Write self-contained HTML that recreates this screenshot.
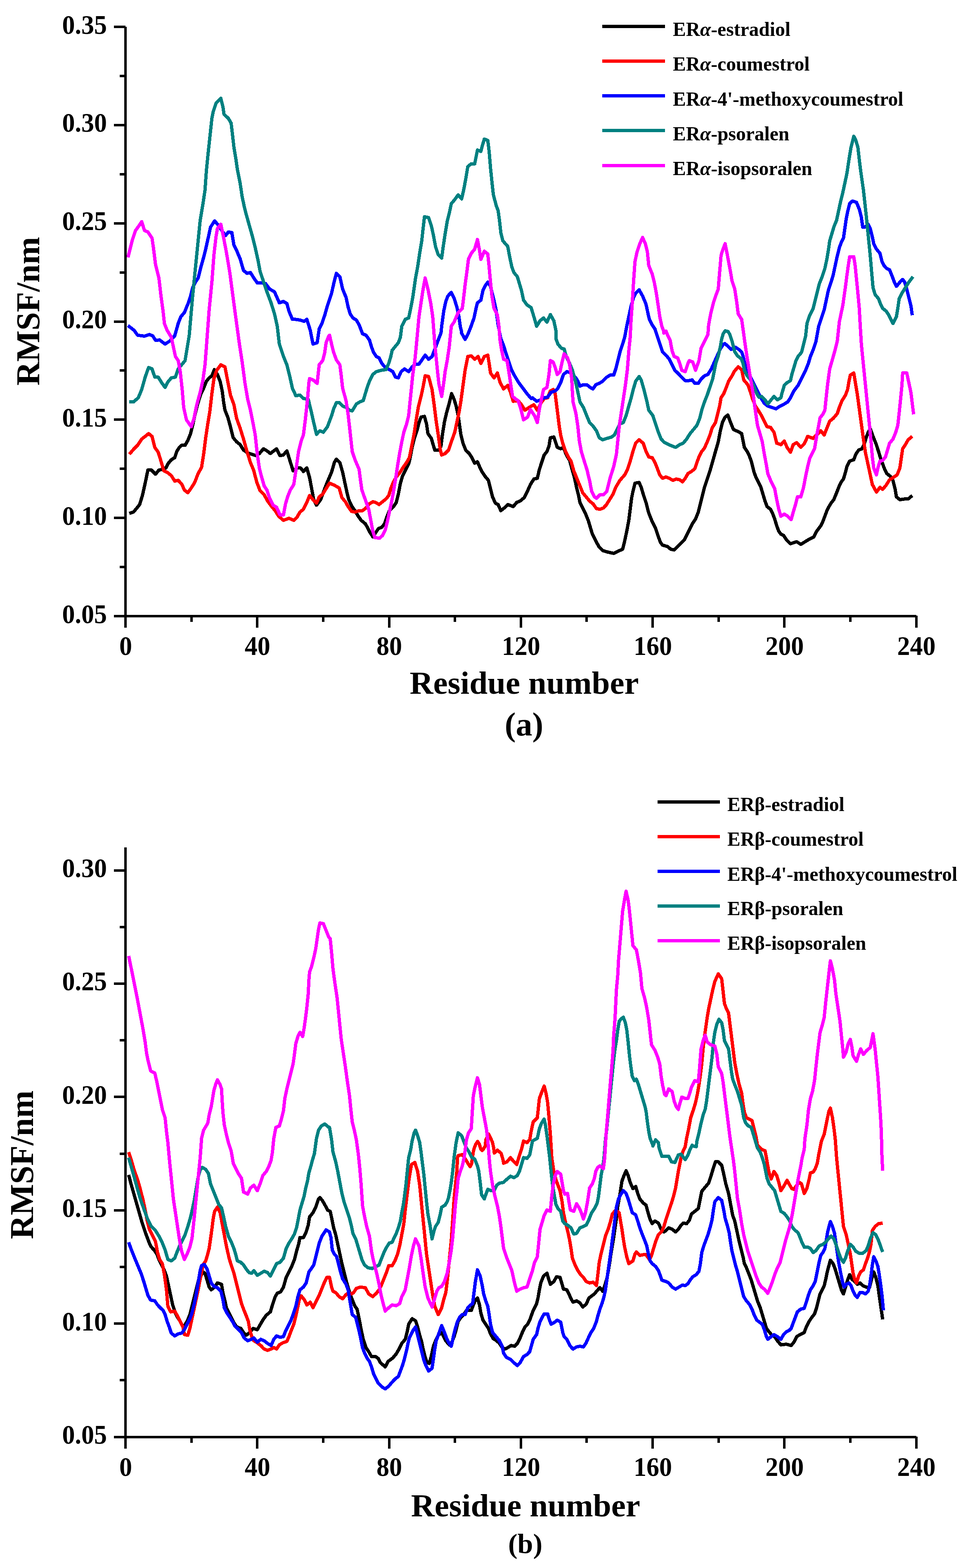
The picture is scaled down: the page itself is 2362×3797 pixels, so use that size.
<!DOCTYPE html>
<html><head><meta charset="utf-8"><title>RMSF</title>
<style>html,body{margin:0;padding:0;background:#fff;}svg{display:block;}</style></head>
<body>
<svg width="2362" height="3797" viewBox="0 0 2362 3797" shape-rendering="crispEdges" font-family="'Liberation Serif','Times New Roman',serif" font-weight="bold" fill="#000">
<rect width="2362" height="3797" fill="#fff"/>
<g id="curvesA" shape-rendering="crispEdges">
<polyline fill="none" stroke="#000000" stroke-width="8" stroke-linejoin="round" stroke-linecap="butt" points="313.3,1243.3 323.3,1240.0 331.7,1230.0 338.3,1221.7 345.0,1200.0 351.7,1170.0 358.3,1138.3 366.7,1138.3 376.7,1148.3 385.0,1138.3 393.3,1136.7 401.7,1133.3 406.7,1123.3 415.0,1113.3 423.3,1108.3 428.3,1093.3 433.3,1085.0 440.0,1078.3 448.3,1078.3 455.0,1066.7 461.7,1050.0 466.7,1030.0 471.7,1006.7 478.3,980.0 486.7,953.3 493.3,940.0 500.0,923.3 506.7,915.0 513.3,910.0 519.3,895.0 526.7,906.7 533.3,923.3 538.3,946.7 541.7,973.3 545.0,993.3 551.7,1010.0 558.3,1033.3 565.0,1060.0 573.3,1070.0 581.7,1076.7 590.0,1090.0 600.0,1096.7 610.0,1100.0 620.0,1103.3 628.3,1098.3 638.3,1086.7 646.7,1091.7 655.0,1098.3 663.3,1091.7 670.0,1086.7 678.3,1103.3 686.7,1101.7 695.0,1091.7 701.7,1113.3 710.0,1140.0 720.0,1133.3 728.3,1133.3 735.0,1141.7 743.3,1133.3 750.0,1156.7 755.0,1183.3 760.0,1210.0 766.7,1223.3 776.7,1210.0 786.7,1183.3 793.3,1166.7 803.3,1143.3 810.0,1120.0 815.0,1111.7 823.3,1120.0 830.0,1143.3 835.0,1166.7 840.0,1190.0 845.0,1210.0 851.7,1225.0 860.0,1236.7 866.7,1248.3 875.0,1260.0 885.0,1268.3 891.7,1280.0 896.7,1290.0 903.3,1300.0 910.0,1290.0 916.7,1280.0 925.0,1276.7 931.7,1268.3 936.7,1253.3 943.3,1236.7 953.3,1226.7 960.0,1216.7 965.0,1196.7 970.0,1170.0 975.0,1153.3 981.7,1140.0 990.0,1123.3 993.3,1110.0 998.3,1083.3 1003.3,1063.3 1010.0,1043.3 1015.0,1023.3 1020.0,1010.0 1028.3,1008.3 1033.3,1026.7 1036.7,1050.0 1045.0,1061.7 1048.3,1073.3 1053.3,1090.0 1063.3,1090.0 1068.3,1080.0 1071.7,1053.3 1076.7,1021.7 1081.7,1000.0 1088.3,976.7 1094.0,953.3 1100.0,966.7 1105.0,983.3 1110.0,1006.7 1113.3,1030.0 1116.7,1053.3 1121.7,1073.3 1128.3,1090.0 1136.7,1098.3 1143.3,1108.3 1150.0,1121.7 1156.7,1118.3 1161.7,1130.0 1168.3,1143.3 1175.0,1153.3 1183.3,1163.3 1188.3,1183.3 1193.3,1203.3 1200.0,1218.3 1206.7,1221.7 1213.3,1236.7 1221.7,1230.0 1230.0,1221.7 1243.3,1226.7 1251.7,1216.7 1260.0,1213.3 1270.0,1205.0 1276.7,1191.7 1285.0,1173.3 1293.3,1160.0 1301.7,1158.3 1306.7,1136.7 1313.3,1116.7 1318.3,1101.7 1325.0,1093.3 1330.0,1080.0 1333.3,1060.0 1341.7,1058.3 1346.7,1073.3 1350.0,1083.3 1358.3,1086.7 1365.0,1083.3 1370.0,1096.7 1375.0,1106.7 1380.0,1115.0 1385.0,1133.3 1391.7,1156.7 1396.7,1180.0 1401.7,1200.0 1405.0,1216.7 1411.7,1230.0 1418.3,1243.3 1425.0,1260.0 1430.0,1276.7 1435.0,1293.3 1443.3,1310.0 1451.7,1325.0 1460.0,1333.3 1471.7,1336.7 1486.7,1340.0 1496.7,1335.0 1508.3,1330.0 1513.3,1310.0 1518.3,1286.7 1523.3,1260.0 1526.7,1233.3 1530.0,1206.7 1533.3,1190.0 1538.3,1170.0 1548.3,1168.3 1553.3,1180.0 1558.3,1196.7 1565.0,1216.7 1570.0,1236.7 1573.3,1246.7 1580.0,1263.3 1588.3,1280.0 1595.0,1300.0 1600.0,1313.3 1605.0,1320.0 1616.7,1323.3 1625.0,1330.0 1633.3,1331.7 1641.7,1323.3 1650.0,1315.0 1658.3,1306.7 1663.3,1296.7 1670.0,1283.3 1678.3,1266.7 1685.0,1256.7 1691.7,1240.0 1696.7,1220.0 1701.7,1200.0 1706.7,1180.0 1713.3,1160.0 1720.0,1140.0 1726.7,1116.7 1733.3,1093.3 1740.0,1070.0 1745.0,1043.3 1750.0,1023.3 1756.7,1010.0 1763.3,1005.0 1770.0,1023.3 1776.7,1040.0 1780.0,1041.7 1788.3,1045.0 1796.7,1050.0 1800.0,1066.7 1803.3,1083.3 1810.0,1093.3 1815.0,1103.3 1820.0,1116.7 1823.3,1130.0 1826.7,1143.3 1831.7,1156.7 1836.7,1166.7 1843.3,1180.0 1848.3,1196.7 1853.3,1213.3 1858.3,1226.7 1866.7,1233.3 1871.7,1243.3 1876.7,1256.7 1881.7,1273.3 1886.7,1286.7 1891.7,1293.3 1898.3,1296.7 1905.0,1306.7 1915.0,1316.7 1930.0,1311.7 1940.0,1318.3 1953.3,1310.0 1961.7,1305.0 1971.7,1300.0 1978.3,1286.7 1988.3,1273.3 1993.3,1263.3 1998.3,1250.0 2003.3,1236.7 2008.3,1226.7 2013.3,1218.3 2020.0,1210.0 2026.7,1193.3 2033.3,1176.7 2038.3,1166.7 2043.3,1160.0 2048.3,1143.3 2051.7,1130.0 2058.3,1116.7 2068.3,1113.3 2073.3,1100.0 2080.0,1090.0 2088.3,1086.7 2093.3,1076.7 2098.3,1060.0 2103.3,1046.7 2108.3,1038.3 2115.0,1056.7 2121.7,1073.3 2128.3,1093.3 2133.3,1110.0 2138.3,1123.3 2143.3,1136.7 2148.3,1146.7 2156.7,1153.3 2163.3,1163.3 2168.3,1183.3 2171.7,1203.3 2180.0,1210.0 2191.7,1208.3 2200.0,1208.3 2210.0,1200.0"/>
<polyline fill="none" stroke="#ff0000" stroke-width="8" stroke-linejoin="round" stroke-linecap="butt" points="313.3,1100.0 323.3,1088.3 333.3,1078.3 343.3,1063.3 351.7,1056.7 360.0,1050.0 368.3,1056.7 375.0,1083.3 383.3,1095.0 390.0,1116.7 396.7,1140.0 406.7,1145.0 415.0,1151.7 423.3,1165.0 431.7,1163.3 440.0,1171.7 446.7,1186.7 455.0,1193.3 463.3,1181.7 471.7,1168.3 480.0,1146.7 488.3,1131.7 493.3,1100.0 498.3,1060.0 503.3,1026.7 508.3,996.7 513.3,953.3 518.3,916.7 525.0,896.7 535.0,883.3 545.0,888.3 551.7,923.3 558.3,956.7 566.7,980.0 573.3,1013.3 581.7,1036.7 590.0,1063.3 598.3,1093.3 606.7,1120.0 615.0,1140.0 621.7,1166.7 630.0,1188.3 640.0,1198.3 648.3,1213.3 658.3,1226.7 666.7,1236.7 675.0,1250.0 686.7,1260.0 700.0,1255.0 711.7,1260.0 720.0,1251.7 726.7,1240.0 735.0,1233.3 743.3,1216.7 750.0,1200.0 758.3,1210.0 766.7,1218.3 773.3,1203.3 781.7,1196.7 790.0,1183.3 798.3,1170.0 810.0,1175.0 821.7,1181.7 828.3,1205.0 836.7,1215.0 843.3,1226.7 851.7,1238.3 860.0,1240.0 870.0,1236.7 878.3,1236.7 886.7,1230.0 895.0,1220.0 903.3,1215.0 910.0,1216.7 918.3,1221.7 926.7,1215.0 935.0,1208.3 941.7,1200.0 946.7,1183.3 953.3,1166.7 960.0,1155.0 968.3,1145.0 976.7,1131.7 985.0,1120.0 991.7,1108.3 996.7,1083.3 1003.3,1050.0 1008.3,1016.7 1013.3,986.7 1020.0,960.0 1025.0,936.7 1030.0,910.0 1038.3,911.7 1046.7,943.3 1051.7,980.0 1056.7,1020.0 1061.7,1053.3 1066.7,1090.0 1070.0,1101.7 1078.3,1098.3 1086.7,1090.0 1093.3,1070.0 1101.7,1046.7 1106.7,1023.3 1111.7,1000.0 1116.7,970.0 1121.7,933.3 1126.7,896.7 1133.3,863.3 1141.7,861.7 1150.0,870.0 1158.3,863.3 1165.0,880.0 1173.3,863.3 1181.7,860.0 1185.0,880.0 1188.3,903.3 1196.7,915.0 1205.0,903.3 1211.7,926.7 1220.0,941.7 1230.0,933.3 1236.7,950.0 1243.3,971.7 1255.0,970.0 1263.3,980.0 1271.7,993.3 1281.7,986.7 1293.3,980.0 1301.7,993.3 1310.0,976.7 1318.3,965.0 1326.7,963.3 1333.3,946.7 1340.0,943.3 1345.0,953.3 1348.3,980.0 1351.7,1006.7 1355.0,1033.3 1358.3,1053.3 1363.3,1073.3 1370.0,1093.3 1376.7,1106.7 1383.3,1116.7 1390.0,1140.0 1396.7,1156.7 1405.0,1176.7 1411.7,1193.3 1420.0,1203.3 1428.3,1213.3 1436.7,1220.0 1445.0,1231.7 1453.3,1233.3 1461.7,1230.0 1468.3,1223.3 1476.7,1210.0 1485.0,1196.7 1491.7,1180.0 1501.7,1163.3 1513.3,1150.0 1520.0,1136.7 1526.7,1116.7 1533.3,1093.3 1540.0,1073.3 1548.3,1065.0 1558.3,1073.3 1565.0,1093.3 1571.7,1106.7 1580.0,1108.3 1586.7,1120.0 1593.3,1136.7 1598.3,1150.0 1605.0,1158.3 1613.3,1155.0 1621.7,1158.3 1630.0,1163.3 1638.3,1160.0 1646.7,1161.7 1653.3,1166.7 1660.0,1158.3 1666.7,1146.7 1675.0,1141.7 1683.3,1135.0 1688.3,1120.0 1693.3,1106.7 1700.0,1093.3 1706.7,1085.0 1713.3,1070.0 1720.0,1053.3 1725.0,1036.7 1733.3,1023.3 1738.3,1003.3 1743.3,983.3 1746.7,963.3 1753.3,953.3 1760.0,936.7 1765.0,923.3 1773.3,910.0 1778.3,900.0 1788.3,888.3 1796.7,895.0 1801.7,920.0 1811.7,931.7 1818.3,950.0 1823.3,966.7 1830.0,983.3 1836.7,993.3 1845.0,1006.7 1851.7,1020.0 1858.3,1033.3 1866.7,1035.0 1875.0,1046.7 1881.7,1073.3 1891.7,1076.7 1900.0,1068.3 1906.7,1083.3 1915.0,1095.0 1921.7,1076.7 1930.0,1071.7 1940.0,1083.3 1948.3,1075.0 1956.7,1056.7 1970.0,1061.7 1978.3,1053.3 1988.3,1043.3 1996.7,1053.3 2003.3,1036.7 2010.0,1020.0 2018.3,1013.3 2028.3,1001.7 2033.3,986.7 2040.0,970.0 2048.3,956.7 2053.3,943.3 2056.7,923.3 2060.0,908.3 2068.3,903.3 2071.7,923.3 2076.7,953.3 2081.7,990.0 2086.7,1026.7 2091.7,1063.3 2096.7,1096.7 2103.3,1126.7 2108.3,1150.0 2113.3,1173.3 2123.3,1191.7 2131.7,1180.0 2138.3,1185.0 2146.7,1175.0 2155.0,1161.7 2163.3,1156.7 2173.3,1150.0 2180.0,1133.3 2183.3,1110.0 2186.7,1086.7 2193.3,1076.7 2200.0,1065.0 2210.0,1056.7"/>
<polyline fill="none" stroke="#0000ff" stroke-width="8" stroke-linejoin="round" stroke-linecap="butt" points="310.0,788.3 325.0,800.0 333.3,811.7 350.0,814.0 361.7,810.0 370.0,813.3 376.7,824.0 386.7,823.3 400.0,833.3 410.0,826.7 423.3,813.3 431.7,783.3 438.3,766.7 446.7,756.7 455.0,736.7 461.7,716.7 466.7,696.7 473.3,683.3 480.0,673.3 486.7,646.7 493.3,623.3 498.3,603.3 505.0,573.3 510.0,550.0 520.0,535.0 530.0,546.7 538.3,560.0 546.7,570.0 553.3,561.7 561.7,563.3 566.7,593.3 573.3,606.7 581.7,626.7 590.0,655.0 598.3,661.7 606.7,660.0 615.0,673.3 623.3,685.0 633.3,685.0 643.3,686.7 653.3,700.0 665.0,706.7 676.7,733.3 686.7,730.0 695.0,735.0 700.0,753.3 708.3,773.3 715.0,773.3 726.7,775.0 736.7,778.3 743.3,773.3 751.7,800.0 758.3,833.3 768.3,830.0 773.3,796.7 780.0,783.3 786.7,763.3 793.3,740.0 803.3,710.0 810.0,680.0 815.0,661.7 823.3,670.0 830.0,700.0 838.3,720.0 843.3,743.3 848.3,760.0 855.0,770.0 863.3,775.0 870.0,786.7 878.3,808.3 886.7,811.7 895.0,823.3 900.0,840.0 905.0,853.3 911.7,863.3 918.3,866.7 925.0,880.0 933.3,890.0 943.3,895.0 951.7,900.0 958.3,913.3 965.0,915.0 971.7,900.0 980.0,893.3 990.0,900.0 998.3,888.3 1006.7,881.7 1015.0,881.7 1023.3,870.0 1030.0,860.0 1038.3,870.0 1046.7,863.3 1051.7,850.0 1056.7,836.7 1061.7,823.3 1068.3,806.7 1070.0,790.0 1075.0,753.3 1080.0,730.0 1085.0,716.7 1093.3,708.3 1100.0,721.7 1106.7,743.3 1111.7,766.7 1115.0,790.0 1118.3,803.3 1118.3,806.7 1126.7,821.7 1133.3,810.0 1140.0,793.3 1148.3,770.0 1153.3,746.7 1156.7,733.3 1165.0,726.7 1170.0,703.3 1176.7,690.0 1181.7,683.3 1188.3,693.3 1195.0,720.0 1201.7,750.0 1206.7,786.7 1213.3,820.0 1220.0,836.7 1225.0,853.3 1231.7,873.3 1238.3,893.3 1246.7,910.0 1256.7,926.7 1266.7,940.0 1276.7,953.3 1286.7,965.0 1290.0,963.3 1300.0,971.7 1310.0,968.3 1318.3,963.3 1326.7,961.7 1335.0,950.0 1345.0,946.7 1351.7,940.0 1358.3,926.7 1365.0,906.7 1373.3,900.0 1380.0,901.7 1386.7,908.3 1395.0,915.0 1400.0,923.3 1405.0,935.0 1413.3,931.7 1421.7,931.7 1430.0,938.3 1436.7,941.7 1443.3,931.7 1451.7,928.3 1460.0,923.3 1470.0,913.3 1478.3,908.3 1486.7,908.3 1491.7,893.3 1496.7,873.3 1501.7,853.3 1508.3,833.3 1513.3,816.7 1518.3,790.0 1523.3,766.7 1528.3,743.3 1535.0,720.0 1540.0,710.0 1548.3,701.7 1556.7,716.7 1565.0,736.7 1570.0,760.0 1573.3,773.3 1580.0,786.7 1586.7,796.7 1593.3,816.7 1600.0,836.7 1605.0,851.7 1613.3,860.0 1621.7,870.0 1628.3,883.3 1635.0,896.7 1641.7,903.3 1650.0,911.7 1660.0,921.7 1668.3,921.7 1676.7,920.0 1683.3,928.3 1691.7,928.3 1698.3,918.3 1706.7,910.0 1715.0,906.7 1723.3,893.3 1730.0,878.0 1745.0,845.0 1752.0,834.0 1756.0,832.0 1763.0,838.0 1771.0,846.0 1776.0,843.0 1782.0,841.0 1791.0,847.0 1797.0,853.0 1800.0,862.0 1804.0,880.0 1808.3,890.0 1816.7,910.0 1823.3,923.3 1830.0,936.7 1836.7,950.0 1843.3,963.3 1851.7,976.7 1860.0,983.3 1870.0,986.7 1880.0,990.0 1890.0,983.3 1900.0,978.3 1908.3,973.3 1915.0,963.3 1923.3,946.7 1933.3,933.3 1940.0,920.0 1946.7,906.7 1951.7,896.7 1958.3,880.0 1963.3,863.3 1970.0,846.7 1976.7,826.7 1983.3,790.0 1990.0,770.0 1996.7,750.0 2001.7,726.7 2006.7,703.3 2013.3,683.3 2018.3,666.7 2023.3,643.3 2028.3,620.0 2033.3,600.0 2038.3,586.7 2043.3,576.7 2046.7,553.3 2050.0,530.0 2053.3,513.3 2058.3,493.3 2065.0,486.7 2075.0,490.0 2081.7,506.7 2086.7,526.7 2090.0,550.0 2095.0,550.0 2103.3,543.3 2108.3,553.3 2113.3,573.3 2116.7,590.0 2123.3,603.3 2131.7,613.3 2136.7,633.3 2141.7,643.3 2148.3,650.0 2155.0,653.3 2161.7,670.0 2166.7,683.3 2171.7,693.3 2180.0,683.3 2186.7,676.7 2191.7,683.3 2196.7,700.0 2201.7,720.0 2206.7,740.0 2210.0,763.3"/>
<polyline fill="none" stroke="#008080" stroke-width="8" stroke-linejoin="round" stroke-linecap="butt" points="313.3,973.3 323.3,973.3 335.0,963.3 343.3,943.3 351.7,913.3 360.0,890.0 368.3,893.3 375.0,913.3 383.3,913.3 391.7,926.7 400.0,938.3 406.7,925.0 415.0,915.0 425.0,913.3 431.7,893.3 440.0,883.3 448.3,873.3 453.3,843.3 458.3,813.3 466.7,716.7 473.3,650.0 480.0,583.3 485.0,533.3 491.7,493.3 496.7,460.0 500.0,413.3 504.0,373.3 508.3,333.3 513.3,286.7 516.7,270.0 523.3,250.0 535.0,238.3 540.0,258.3 542.7,276.7 553.3,286.7 560.0,298.3 563.3,326.7 566.7,356.7 571.7,386.7 575.0,410.0 581.7,443.3 586.7,476.7 591.7,500.0 596.7,520.0 603.3,543.3 611.7,573.3 618.3,600.0 625.0,630.0 630.0,656.7 636.7,676.7 646.7,706.7 656.7,733.3 665.0,760.0 671.7,790.0 676.7,833.3 686.7,863.3 695.0,883.3 701.7,910.0 708.3,940.0 716.7,958.3 726.7,956.7 735.0,965.0 746.7,966.7 753.3,993.3 760.0,1023.3 766.7,1051.7 775.0,1043.3 783.3,1046.7 793.3,1033.3 803.3,1006.7 808.3,990.0 815.0,975.0 821.7,975.0 830.0,983.3 838.3,986.7 846.7,993.3 853.3,995.0 858.3,986.7 863.3,978.3 871.7,973.3 880.0,970.0 885.0,953.3 890.0,936.7 895.0,923.3 903.3,906.7 911.7,900.0 923.3,896.7 935.0,895.0 941.7,880.0 946.7,863.3 950.0,848.3 956.7,840.0 965.0,830.0 970.0,816.7 973.3,790.0 981.7,773.3 990.0,770.0 995.0,746.7 1000.0,720.0 1006.7,673.3 1011.7,646.7 1016.7,613.3 1021.7,583.3 1025.0,553.3 1028.3,525.0 1038.3,526.7 1045.0,546.7 1050.0,570.0 1055.0,596.7 1061.7,616.7 1070.0,625.0 1073.3,600.0 1078.3,566.7 1083.3,536.7 1088.3,516.7 1093.3,493.3 1101.7,483.3 1110.0,471.7 1118.3,481.7 1123.3,460.0 1128.3,433.3 1133.3,403.3 1141.7,396.7 1150.0,396.7 1153.3,380.0 1156.7,363.3 1165.0,366.7 1168.3,353.3 1173.3,336.7 1181.7,340.0 1185.0,366.7 1188.3,406.7 1191.7,440.0 1195.0,470.0 1201.7,496.7 1206.7,510.0 1210.0,533.3 1213.3,563.3 1218.3,583.3 1230.0,596.7 1235.0,623.3 1240.0,646.7 1245.0,660.0 1253.3,670.0 1258.3,686.7 1263.3,703.3 1268.3,726.7 1276.7,738.3 1286.7,745.0 1293.3,766.7 1300.0,790.0 1308.3,776.7 1316.7,770.0 1325.0,780.0 1333.3,761.7 1341.7,776.7 1346.7,800.0 1346.7,820.0 1351.7,833.3 1360.0,843.3 1366.7,845.0 1371.7,863.3 1380.0,880.0 1386.7,896.7 1395.0,926.7 1400.0,950.0 1405.0,973.3 1413.3,986.7 1420.0,1003.3 1428.3,1023.3 1436.7,1031.7 1445.0,1043.3 1451.7,1060.0 1460.0,1065.0 1470.0,1061.7 1481.7,1058.3 1488.3,1053.3 1495.0,1040.0 1501.7,1026.7 1510.0,1023.3 1516.7,1006.7 1523.3,983.3 1530.0,960.0 1535.0,940.0 1540.0,923.3 1548.3,911.7 1553.3,920.0 1560.0,943.3 1566.7,970.0 1571.7,993.3 1581.7,1006.7 1588.3,1026.7 1595.0,1046.7 1601.7,1063.3 1610.0,1071.7 1620.0,1076.7 1628.3,1080.0 1636.7,1083.3 1646.7,1076.7 1655.0,1073.3 1663.3,1063.3 1671.7,1050.0 1680.0,1040.0 1688.3,1030.0 1695.0,1013.3 1700.0,993.3 1706.7,973.3 1713.3,956.7 1720.0,936.7 1726.7,916.7 1734.0,880.0 1740.0,862.0 1745.0,840.0 1748.0,822.0 1752.0,808.0 1757.0,801.0 1764.0,803.0 1768.0,810.0 1773.0,825.0 1777.0,840.0 1780.0,852.0 1787.0,862.0 1796.0,869.0 1800.0,880.0 1803.3,896.7 1810.0,910.0 1818.3,920.0 1825.0,931.7 1831.7,950.0 1838.3,961.7 1845.0,960.0 1853.3,968.3 1860.0,978.3 1866.7,970.0 1875.0,960.0 1883.3,968.3 1891.7,963.3 1895.0,950.0 1900.0,933.3 1906.7,926.7 1915.0,921.7 1918.3,906.7 1923.3,890.0 1928.3,873.3 1933.3,863.3 1941.7,853.3 1946.7,833.3 1951.7,813.3 1955.0,783.3 1961.7,763.3 1970.0,746.7 1975.0,726.7 1980.0,706.7 1985.0,686.7 1991.7,670.0 1998.3,650.0 2003.3,626.7 2006.7,606.7 2010.0,583.3 2015.0,566.7 2020.0,550.0 2026.7,533.3 2031.7,510.0 2036.7,486.7 2041.7,466.7 2046.7,443.3 2051.7,420.0 2056.7,386.7 2061.7,356.7 2068.3,330.0 2073.3,340.0 2078.3,356.7 2081.7,386.7 2085.0,413.3 2088.3,436.7 2091.7,460.0 2095.0,490.0 2098.3,520.0 2101.7,553.3 2105.0,586.7 2108.3,620.0 2111.7,660.0 2115.0,696.7 2120.0,713.3 2128.3,723.3 2133.3,736.7 2138.3,746.7 2146.7,753.3 2153.3,763.3 2158.3,773.3 2163.3,783.3 2171.7,766.7 2175.0,746.7 2178.3,723.3 2185.0,710.0 2193.3,696.7 2201.7,683.3 2211.7,670.0"/>
<polyline fill="none" stroke="#ff00ff" stroke-width="8" stroke-linejoin="round" stroke-linecap="butt" points="310.0,623.3 320.0,583.3 328.3,558.3 336.7,546.7 343.3,536.7 350.0,558.3 358.3,561.7 368.3,576.7 371.7,600.0 376.7,640.0 385.0,673.3 390.0,716.7 395.0,753.3 398.3,783.3 405.0,800.0 415.0,816.7 420.0,840.0 425.0,863.3 431.7,873.3 436.7,900.0 441.7,946.7 445.0,986.7 451.7,1016.7 463.3,1033.3 470.0,1013.3 476.7,980.0 485.0,950.0 491.7,920.0 496.7,883.3 500.0,840.0 506.7,750.0 513.3,683.3 518.3,616.7 523.3,573.3 526.7,553.3 535.0,543.3 540.0,566.7 548.3,610.0 556.7,660.0 563.3,710.0 570.0,760.0 580.0,833.3 586.7,876.7 593.3,926.7 600.0,966.7 606.7,993.3 613.3,1026.7 618.3,1053.3 623.3,1100.0 628.3,1133.3 633.3,1153.3 640.0,1176.7 646.7,1186.7 653.3,1206.7 661.7,1223.3 670.0,1228.3 678.3,1246.7 686.7,1246.7 691.7,1220.0 696.7,1203.3 703.3,1186.7 711.7,1173.3 716.7,1140.0 720.0,1116.7 723.3,1093.3 730.0,1066.7 735.0,1053.3 740.0,1013.3 745.0,966.7 748.3,926.7 750.0,916.7 758.3,920.0 768.3,928.3 773.3,883.3 781.7,873.3 786.7,853.3 790.0,830.0 796.7,813.3 798.3,811.7 803.3,833.3 808.3,853.3 815.0,871.7 823.3,883.3 826.7,910.0 830.0,940.0 838.3,970.0 843.3,1003.3 846.7,1033.3 850.0,1063.3 853.3,1093.3 860.0,1113.3 870.0,1136.7 873.3,1163.3 876.7,1186.7 885.0,1210.0 893.3,1233.3 898.3,1260.0 903.3,1286.7 908.3,1301.7 920.0,1303.3 926.7,1296.7 933.3,1283.3 938.3,1263.3 943.3,1240.0 948.3,1216.7 953.3,1190.0 958.3,1160.0 963.3,1126.7 968.3,1096.7 973.3,1070.0 978.3,1046.7 985.0,1026.7 990.0,1006.7 993.3,973.3 996.7,940.0 1000.0,906.7 1005.0,873.3 1008.3,840.0 1015.0,766.7 1020.0,733.3 1025.0,700.0 1030.0,673.3 1036.7,700.0 1043.3,733.3 1048.3,766.7 1053.3,833.3 1056.7,866.7 1060.0,900.0 1063.3,930.0 1070.0,960.0 1075.0,926.7 1078.3,900.0 1083.3,873.3 1088.3,840.0 1093.3,790.0 1100.0,780.0 1110.0,756.7 1120.0,746.7 1123.3,720.0 1126.7,690.0 1131.7,653.3 1135.0,626.7 1141.7,613.3 1150.0,603.3 1156.7,580.0 1161.7,606.7 1165.0,628.3 1173.3,608.3 1181.7,615.0 1185.0,646.7 1188.3,683.3 1191.7,716.7 1196.7,746.7 1205.0,763.3 1208.3,786.7 1211.7,826.7 1215.0,846.7 1220.0,870.0 1228.3,873.3 1231.7,893.3 1236.7,926.7 1241.7,960.0 1250.0,966.7 1255.0,970.0 1261.7,990.0 1268.3,1016.7 1278.3,1010.0 1285.0,991.7 1295.0,1006.7 1301.7,1023.3 1306.7,990.0 1311.7,966.7 1316.7,943.3 1325.0,938.3 1330.0,906.7 1333.3,873.3 1340.0,876.7 1345.0,890.0 1350.0,906.7 1356.7,900.0 1361.7,876.7 1366.7,856.7 1375.0,866.7 1380.0,883.3 1385.0,916.7 1386.7,950.0 1388.3,973.3 1395.0,1000.0 1400.0,1033.3 1403.3,1066.7 1408.3,1093.3 1413.3,1110.0 1421.7,1136.7 1428.3,1163.3 1433.3,1190.0 1440.0,1203.3 1445.0,1206.7 1453.3,1198.3 1461.7,1198.3 1470.0,1190.0 1473.3,1176.7 1478.3,1156.7 1486.7,1130.0 1493.3,1100.0 1496.7,1066.7 1500.0,1033.3 1505.0,1000.0 1510.0,966.7 1515.0,933.3 1520.0,893.3 1523.3,850.0 1526.7,816.7 1528.3,783.3 1531.7,733.3 1535.0,680.0 1538.3,633.3 1543.3,610.0 1550.0,590.0 1556.7,575.0 1563.3,590.0 1568.3,610.0 1571.7,643.3 1580.0,663.3 1585.0,683.3 1590.0,710.0 1595.0,743.3 1598.3,766.7 1603.3,790.0 1608.3,803.3 1608.3,806.7 1613.3,801.7 1616.7,810.0 1623.3,823.3 1628.3,850.0 1633.3,863.3 1641.7,866.7 1646.7,880.0 1651.7,896.7 1660.0,900.0 1666.7,880.0 1670.0,873.3 1678.3,876.7 1685.0,896.7 1693.3,873.3 1698.3,843.3 1706.7,826.7 1715.0,810.0 1716.7,786.7 1721.7,760.0 1728.3,733.3 1735.0,713.3 1740.0,700.0 1743.3,660.0 1746.7,620.0 1748.3,613.3 1751.7,603.3 1756.7,590.0 1760.0,606.7 1765.0,633.3 1770.0,660.0 1773.3,680.0 1780.0,700.0 1785.0,733.3 1788.3,760.0 1796.7,773.3 1800.0,796.7 1805.0,833.3 1810.0,866.7 1815.0,896.7 1820.0,926.7 1825.0,956.7 1828.3,983.3 1831.7,1006.7 1835.0,1030.0 1840.0,1046.7 1846.7,1070.0 1851.7,1100.0 1856.7,1126.7 1860.0,1146.7 1868.3,1166.7 1876.7,1183.3 1881.7,1210.0 1886.7,1233.3 1891.7,1250.0 1900.0,1245.0 1908.3,1250.0 1916.7,1258.3 1921.7,1240.0 1926.7,1223.3 1931.7,1203.3 1940.0,1203.3 1946.7,1180.0 1951.7,1153.3 1956.7,1130.0 1961.7,1110.0 1968.3,1096.7 1973.3,1086.7 1976.7,1066.7 1980.0,1046.7 1983.3,1030.0 1986.7,1011.7 1993.3,1003.3 1998.3,993.3 2001.7,960.0 2005.0,930.0 2010.0,893.3 2016.7,870.0 2023.3,846.7 2028.3,826.7 2033.3,780.0 2036.7,763.3 2041.7,740.0 2045.0,716.7 2048.3,693.3 2051.7,666.7 2055.0,643.3 2058.3,621.7 2068.3,621.7 2071.7,643.3 2075.0,676.7 2078.3,710.0 2081.7,746.7 2083.3,776.7 2086.7,833.3 2090.0,866.7 2093.3,900.0 2096.7,933.3 2100.0,966.7 2103.3,1000.0 2106.7,1033.3 2110.0,1066.7 2113.3,1106.7 2116.7,1133.3 2123.3,1150.0 2126.7,1133.3 2131.7,1116.7 2138.3,1115.0 2145.0,1106.7 2150.0,1090.0 2155.0,1073.3 2163.3,1063.3 2170.0,1046.7 2175.0,1030.0 2178.3,1000.0 2181.7,966.7 2185.0,933.3 2186.7,903.3 2196.7,903.3 2201.7,926.7 2206.7,950.0 2210.0,976.7 2213.3,1003.3"/>
</g>
<line x1="304.0" y1="65.0" x2="304.0" y2="1495.0" stroke="#000" stroke-width="6"/>
<line x1="301.0" y1="1492" x2="2220.0" y2="1492" stroke="#000" stroke-width="6"/>
<line x1="276" y1="65.0" x2="304.0" y2="65.0" stroke="#000" stroke-width="6"/>
<text transform="translate(259,81.5) scale(1,1.05)" text-anchor="end" font-size="62">0.35</text>
<line x1="276" y1="302.8" x2="304.0" y2="302.8" stroke="#000" stroke-width="6"/>
<text transform="translate(259,319.3) scale(1,1.05)" text-anchor="end" font-size="62">0.30</text>
<line x1="276" y1="540.7" x2="304.0" y2="540.7" stroke="#000" stroke-width="6"/>
<text transform="translate(259,557.2) scale(1,1.05)" text-anchor="end" font-size="62">0.25</text>
<line x1="276" y1="778.5" x2="304.0" y2="778.5" stroke="#000" stroke-width="6"/>
<text transform="translate(259,795.0) scale(1,1.05)" text-anchor="end" font-size="62">0.20</text>
<line x1="276" y1="1016.3" x2="304.0" y2="1016.3" stroke="#000" stroke-width="6"/>
<text transform="translate(259,1032.8) scale(1,1.05)" text-anchor="end" font-size="62">0.15</text>
<line x1="276" y1="1254.2" x2="304.0" y2="1254.2" stroke="#000" stroke-width="6"/>
<text transform="translate(259,1270.7) scale(1,1.05)" text-anchor="end" font-size="62">0.10</text>
<line x1="276" y1="1492.0" x2="304.0" y2="1492.0" stroke="#000" stroke-width="6"/>
<text transform="translate(259,1508.5) scale(1,1.05)" text-anchor="end" font-size="62">0.05</text>
<line x1="290" y1="183.9" x2="304.0" y2="183.9" stroke="#000" stroke-width="6"/>
<line x1="290" y1="421.7" x2="304.0" y2="421.7" stroke="#000" stroke-width="6"/>
<line x1="290" y1="659.6" x2="304.0" y2="659.6" stroke="#000" stroke-width="6"/>
<line x1="290" y1="897.4" x2="304.0" y2="897.4" stroke="#000" stroke-width="6"/>
<line x1="290" y1="1135.2" x2="304.0" y2="1135.2" stroke="#000" stroke-width="6"/>
<line x1="290" y1="1373.1" x2="304.0" y2="1373.1" stroke="#000" stroke-width="6"/>
<line x1="304.0" y1="1491" x2="304.0" y2="1520" stroke="#000" stroke-width="6"/>
<text transform="translate(304.5,1585.5) scale(1,1.05)" text-anchor="middle" font-size="62">0</text>
<line x1="463.6" y1="1492" x2="463.6" y2="1506" stroke="#000" stroke-width="6"/>
<line x1="623.2" y1="1491" x2="623.2" y2="1520" stroke="#000" stroke-width="6"/>
<text transform="translate(623.8,1585.5) scale(1,1.05)" text-anchor="middle" font-size="62">40</text>
<line x1="782.9" y1="1492" x2="782.9" y2="1506" stroke="#000" stroke-width="6"/>
<line x1="942.5" y1="1491" x2="942.5" y2="1520" stroke="#000" stroke-width="6"/>
<text transform="translate(943.0,1585.5) scale(1,1.05)" text-anchor="middle" font-size="62">80</text>
<line x1="1102.1" y1="1492" x2="1102.1" y2="1506" stroke="#000" stroke-width="6"/>
<line x1="1261.8" y1="1491" x2="1261.8" y2="1520" stroke="#000" stroke-width="6"/>
<text transform="translate(1262.2,1585.5) scale(1,1.05)" text-anchor="middle" font-size="62">120</text>
<line x1="1421.4" y1="1492" x2="1421.4" y2="1506" stroke="#000" stroke-width="6"/>
<line x1="1581.0" y1="1491" x2="1581.0" y2="1520" stroke="#000" stroke-width="6"/>
<text transform="translate(1581.5,1585.5) scale(1,1.05)" text-anchor="middle" font-size="62">160</text>
<line x1="1740.6" y1="1492" x2="1740.6" y2="1506" stroke="#000" stroke-width="6"/>
<line x1="1900.2" y1="1491" x2="1900.2" y2="1520" stroke="#000" stroke-width="6"/>
<text transform="translate(1900.8,1585.5) scale(1,1.05)" text-anchor="middle" font-size="62">200</text>
<line x1="2059.9" y1="1492" x2="2059.9" y2="1506" stroke="#000" stroke-width="6"/>
<line x1="2219.5" y1="1491" x2="2219.5" y2="1520" stroke="#000" stroke-width="6"/>
<text transform="translate(2220.0,1585.5) scale(1,1.05)" text-anchor="middle" font-size="62">240</text>
<line x1="1459" y1="63.9" x2="1611" y2="63.9" stroke="#000000" stroke-width="8"/>
<text x="1630" y="87.2" font-size="47.5">ER<tspan font-style="italic">α</tspan>-estradiol</text>
<line x1="1459" y1="148.1" x2="1611" y2="148.1" stroke="#ff0000" stroke-width="8"/>
<text x="1630" y="171.4" font-size="47.5">ER<tspan font-style="italic">α</tspan>-coumestrol</text>
<line x1="1459" y1="232.3" x2="1611" y2="232.3" stroke="#0000ff" stroke-width="8"/>
<text x="1630" y="255.6" font-size="47.5">ER<tspan font-style="italic">α</tspan>-4'-methoxycoumestrol</text>
<line x1="1459" y1="316.4" x2="1611" y2="316.4" stroke="#008080" stroke-width="8"/>
<text x="1630" y="339.7" font-size="47.5">ER<tspan font-style="italic">α</tspan>-psoralen</text>
<line x1="1459" y1="400.6" x2="1611" y2="400.6" stroke="#ff00ff" stroke-width="8"/>
<text x="1630" y="423.9" font-size="47.5">ER<tspan font-style="italic">α</tspan>-isopsoralen</text>
<text x="1270" y="1679.8" text-anchor="middle" font-size="79">Residue number</text>
<text x="1269.5" y="1780.7" text-anchor="middle" font-size="80">(a)</text>
<text transform="translate(95,753.5) rotate(-90)" text-anchor="middle" font-size="80">RMSF/nm</text>
<g id="curvesB" shape-rendering="crispEdges">
<polyline fill="none" stroke="#000000" stroke-width="8" stroke-linejoin="round" stroke-linecap="butt" points="311.7,2845.0 318.3,2870.0 325.0,2893.3 331.7,2916.7 338.3,2940.0 345.0,2963.3 351.7,2983.3 356.7,2996.7 361.7,3010.0 366.7,3020.0 373.3,3026.7 380.0,3036.7 385.0,3050.0 391.7,3063.3 398.3,3076.7 403.3,3090.0 408.3,3113.3 413.3,3136.7 418.3,3160.0 425.0,3180.0 430.0,3190.0 436.7,3200.0 441.7,3210.0 446.7,3210.0 453.3,3200.0 460.0,3183.3 465.0,3163.3 470.0,3143.3 475.0,3123.3 480.0,3103.3 486.7,3090.0 491.7,3080.0 496.7,3083.3 501.7,3100.0 506.7,3116.7 511.7,3123.3 520.0,3116.7 526.7,3106.7 536.7,3110.0 540.0,3130.0 545.0,3150.0 548.3,3166.7 555.0,3180.0 561.7,3193.3 566.7,3203.3 573.3,3213.3 583.3,3216.7 590.0,3226.7 596.7,3233.3 603.3,3228.3 613.3,3216.7 623.3,3220.0 630.0,3208.3 636.7,3196.7 645.0,3185.0 655.0,3176.7 660.0,3160.0 666.7,3140.0 671.7,3131.7 680.0,3128.3 686.7,3116.7 693.3,3093.3 700.0,3080.0 706.7,3066.7 713.3,3050.0 718.3,3030.0 723.3,3013.3 726.7,2996.7 735.0,2996.7 741.7,2983.3 746.7,2966.7 750.0,2946.7 758.3,2936.7 765.0,2923.3 771.7,2903.3 775.0,2900.0 781.7,2908.3 788.3,2920.0 793.3,2930.0 800.0,2933.3 805.0,2956.7 808.3,2973.3 813.3,2990.0 818.3,3013.3 823.3,3036.7 828.3,3060.0 833.3,3080.0 838.3,3100.0 845.0,3123.3 851.7,3143.3 860.0,3163.3 865.0,3170.0 870.0,3193.3 875.0,3220.0 880.0,3243.3 886.7,3263.3 893.3,3273.3 900.0,3285.0 910.0,3285.0 916.7,3290.0 921.7,3300.0 933.3,3310.0 940.0,3296.7 945.0,3293.3 951.7,3288.3 960.0,3278.3 966.7,3266.7 973.3,3253.3 981.7,3243.3 986.7,3223.3 990.0,3206.7 998.3,3193.3 1006.7,3198.3 1011.7,3213.3 1016.7,3233.3 1021.7,3250.0 1025.0,3266.7 1030.0,3286.7 1035.0,3300.0 1040.0,3301.7 1045.0,3283.3 1050.0,3260.0 1056.7,3243.3 1061.7,3233.3 1070.0,3226.7 1075.0,3236.7 1080.0,3246.7 1088.3,3256.7 1093.3,3253.3 1100.0,3236.7 1105.0,3220.0 1110.0,3200.0 1116.7,3190.0 1123.3,3183.3 1130.0,3173.3 1136.7,3173.3 1141.7,3173.3 1146.7,3160.0 1151.7,3148.3 1156.7,3143.3 1161.7,3160.0 1165.0,3180.0 1170.0,3196.7 1176.7,3206.7 1183.3,3216.7 1188.3,3230.0 1195.0,3241.7 1203.3,3246.7 1210.0,3253.3 1216.7,3263.3 1223.3,3266.7 1230.0,3263.3 1238.3,3258.3 1246.7,3260.0 1253.3,3253.3 1260.0,3240.0 1266.7,3223.3 1271.7,3213.3 1278.3,3206.7 1283.3,3196.7 1291.7,3173.3 1300.0,3156.7 1303.3,3143.3 1306.7,3123.3 1310.0,3106.7 1316.7,3090.0 1325.0,3083.3 1330.0,3100.0 1333.3,3110.0 1341.7,3103.3 1348.3,3091.7 1356.7,3093.3 1361.7,3110.0 1365.0,3121.7 1373.3,3123.3 1378.3,3133.3 1383.3,3145.0 1388.3,3153.3 1396.7,3150.0 1405.0,3155.0 1411.7,3165.0 1420.0,3158.3 1426.7,3143.3 1433.3,3138.3 1440.0,3133.3 1446.7,3125.0 1453.3,3118.3 1460.0,3126.7 1465.0,3113.3 1470.0,3096.7 1473.3,3080.0 1476.7,3060.0 1480.0,3036.7 1483.3,3016.7 1486.7,2996.7 1490.0,2973.3 1493.3,2950.0 1496.7,2920.0 1501.7,2893.3 1506.7,2860.0 1511.7,2846.7 1516.7,2835.0 1521.7,2846.7 1526.7,2863.3 1533.3,2878.3 1540.0,2873.3 1545.0,2890.0 1550.0,2903.3 1558.3,2913.3 1565.0,2918.3 1570.0,2936.7 1575.0,2953.3 1580.0,2963.3 1586.7,2956.7 1595.0,2961.7 1601.7,2976.7 1608.3,2983.3 1613.3,2980.0 1620.0,2973.3 1628.3,2976.7 1636.7,2983.3 1643.3,2976.7 1650.0,2966.7 1655.0,2961.7 1663.3,2963.3 1670.0,2955.0 1675.0,2940.0 1683.3,2933.3 1691.7,2926.7 1695.0,2910.0 1700.0,2885.0 1706.7,2876.7 1716.7,2865.0 1721.7,2850.0 1726.7,2833.3 1733.3,2813.3 1740.0,2813.3 1748.3,2821.7 1753.3,2843.3 1758.3,2866.7 1765.0,2890.0 1770.0,2916.7 1775.0,2943.3 1780.0,2956.7 1785.0,2980.0 1790.0,3003.3 1795.0,3023.3 1800.0,3043.3 1803.3,3060.0 1808.3,3070.0 1815.0,3086.7 1820.0,3100.0 1825.0,3116.7 1830.0,3133.3 1835.0,3150.0 1841.7,3166.7 1846.7,3183.3 1851.7,3200.0 1856.7,3216.7 1861.7,3223.3 1870.0,3233.3 1876.7,3236.7 1883.3,3246.7 1891.7,3256.7 1905.0,3255.0 1916.7,3258.3 1923.3,3250.0 1930.0,3236.7 1938.3,3231.7 1948.3,3226.7 1953.3,3213.3 1960.0,3200.0 1966.7,3190.0 1973.3,3181.7 1978.3,3166.7 1983.3,3146.7 1986.7,3133.3 1991.7,3123.3 1996.7,3113.3 2000.0,3100.0 2003.3,3083.3 2006.7,3070.0 2011.7,3051.7 2018.3,3060.0 2023.3,3073.3 2028.3,3090.0 2033.3,3106.7 2038.3,3123.3 2043.3,3133.3 2048.3,3116.7 2053.3,3100.0 2058.3,3086.7 2063.3,3096.7 2070.0,3103.3 2076.7,3110.0 2083.3,3106.7 2090.0,3113.3 2098.3,3116.7 2106.7,3116.7 2110.0,3103.3 2113.3,3090.0 2116.7,3080.0 2121.7,3093.3 2126.7,3113.3 2130.0,3136.7 2133.3,3160.0 2136.7,3183.3 2138.3,3195.0"/>
<polyline fill="none" stroke="#ff0000" stroke-width="8" stroke-linejoin="round" stroke-linecap="butt" points="311.7,2790.0 318.3,2810.0 325.0,2833.3 333.3,2856.7 340.0,2880.0 346.7,2906.7 351.7,2930.0 356.7,2956.7 361.7,2976.7 370.0,2993.3 376.7,3006.7 381.7,3033.3 386.7,3050.0 393.3,3060.0 398.3,3086.7 403.3,3123.3 406.7,3163.3 413.3,3176.7 423.3,3175.0 430.0,3186.7 436.7,3200.0 443.3,3213.3 446.7,3231.7 455.0,3233.3 460.0,3216.7 465.0,3193.3 470.0,3170.0 475.0,3146.7 480.0,3123.3 485.0,3096.7 491.7,3063.3 498.3,3053.3 503.3,3036.7 506.7,3023.3 510.0,3000.0 513.3,2976.7 516.7,2950.0 520.0,2933.3 526.7,2923.3 533.3,2936.7 538.3,2963.3 543.3,2990.0 548.3,3016.7 555.0,3046.7 560.0,3063.3 566.7,3083.3 571.7,3103.3 578.3,3130.0 585.0,3156.7 590.0,3170.0 596.7,3186.7 601.7,3200.0 605.0,3220.0 610.0,3236.7 615.0,3246.7 623.3,3251.7 631.7,3258.3 640.0,3266.7 648.3,3270.0 656.7,3266.7 663.3,3263.3 670.0,3266.7 676.7,3256.7 685.0,3251.7 695.0,3248.3 700.0,3236.7 705.0,3223.3 711.7,3206.7 716.7,3186.7 721.7,3163.3 725.0,3146.7 730.0,3138.3 736.7,3146.7 743.3,3160.0 751.7,3153.3 758.3,3166.7 765.0,3153.3 773.3,3136.7 780.0,3120.0 786.7,3103.3 791.7,3093.3 798.3,3093.3 803.3,3116.7 806.7,3126.7 813.3,3130.0 821.7,3140.0 830.0,3145.0 838.3,3135.0 845.0,3130.0 851.7,3133.3 856.7,3130.0 863.3,3120.0 873.3,3116.7 885.0,3118.3 893.3,3133.3 903.3,3140.0 911.7,3131.7 918.3,3123.3 923.3,3113.3 930.0,3096.7 936.7,3080.0 941.7,3065.0 950.0,3065.0 956.7,3053.3 963.3,3036.7 968.3,3016.7 973.3,2990.0 978.3,2963.3 981.7,2930.0 985.0,2903.3 988.3,2876.7 991.7,2850.0 996.7,2820.0 1005.0,2815.0 1011.7,2836.7 1016.7,2870.0 1020.0,2903.3 1023.3,2936.7 1026.7,2970.0 1030.0,3003.3 1033.3,3036.7 1038.3,3070.0 1043.3,3103.3 1048.3,3136.7 1053.3,3163.3 1061.7,3183.3 1070.0,3166.7 1075.0,3146.7 1080.0,3130.0 1083.3,3103.3 1086.7,3070.0 1090.0,3036.7 1093.3,3003.3 1096.7,2953.3 1100.0,2903.3 1103.3,2870.0 1106.7,2836.7 1108.3,2803.3 1110.0,2798.3 1120.0,2796.0 1127.0,2806.0 1133.0,2816.0 1139.0,2825.0 1142.5,2818.0 1144.5,2803.0 1146.5,2790.0 1148.5,2781.0 1152.0,2772.0 1157.0,2764.0 1161.0,2770.0 1165.0,2783.0 1168.0,2786.0 1171.0,2783.0 1175.5,2775.0 1177.0,2760.0 1183.5,2746.0 1189.0,2757.0 1193.0,2766.0 1196.0,2780.0 1197.5,2792.0 1205.0,2785.0 1214.0,2793.0 1218.0,2806.0 1220.0,2816.7 1228.3,2813.3 1236.7,2803.3 1245.0,2813.3 1251.7,2820.0 1256.7,2803.3 1263.3,2783.3 1268.3,2763.3 1276.7,2766.7 1283.3,2760.0 1286.7,2740.0 1291.7,2716.7 1301.7,2706.7 1306.7,2660.0 1311.7,2646.7 1318.3,2630.0 1323.3,2650.0 1326.7,2670.0 1330.0,2706.7 1333.3,2746.7 1336.7,2803.3 1341.7,2836.7 1346.7,2856.7 1351.7,2870.0 1356.7,2883.3 1361.7,2910.0 1365.0,2936.7 1370.0,2960.0 1375.0,2980.0 1380.0,3003.3 1383.3,3023.3 1386.7,3046.7 1393.3,3063.3 1400.0,3076.7 1406.7,3086.7 1413.3,3093.3 1420.0,3103.3 1428.3,3106.7 1436.7,3105.0 1445.0,3113.3 1448.3,3086.7 1451.7,3056.7 1456.7,3033.3 1461.7,3013.3 1466.7,2993.3 1473.3,2976.7 1478.3,2960.0 1483.3,2940.0 1491.7,2930.0 1500.0,2936.7 1503.3,2956.7 1506.7,2976.7 1510.0,3000.0 1513.3,3020.0 1518.3,3043.3 1523.3,3060.0 1533.3,3053.3 1538.3,3036.7 1541.7,3031.7 1550.0,3040.0 1558.3,3038.3 1565.0,3038.3 1573.3,3050.0 1578.3,3040.0 1583.3,3023.3 1588.3,3006.7 1595.0,2990.0 1603.3,2981.7 1608.3,2970.0 1613.3,2953.3 1620.0,2933.3 1626.7,2913.3 1631.7,2896.7 1636.7,2876.7 1640.0,2856.7 1643.3,2836.7 1646.7,2820.0 1650.0,2803.3 1655.0,2786.7 1660.0,2776.7 1663.3,2756.7 1668.3,2733.3 1673.3,2706.7 1680.0,2686.7 1685.0,2670.0 1690.0,2646.7 1693.3,2626.7 1696.7,2603.3 1700.0,2576.7 1703.3,2540.0 1706.7,2510.0 1710.0,2486.7 1713.3,2463.3 1716.7,2443.3 1721.7,2420.0 1726.7,2396.7 1731.7,2376.7 1740.0,2358.3 1748.3,2370.0 1751.7,2400.0 1755.0,2430.0 1760.0,2443.3 1765.0,2453.3 1768.3,2480.0 1771.7,2506.7 1775.0,2533.3 1780.0,2573.3 1785.0,2600.0 1790.0,2623.3 1796.7,2646.7 1800.0,2673.3 1803.3,2693.3 1808.3,2706.7 1815.0,2710.0 1821.7,2713.3 1826.7,2733.3 1831.7,2753.3 1835.0,2773.3 1845.0,2783.3 1853.3,2786.7 1856.7,2803.3 1860.0,2823.3 1863.3,2840.0 1868.3,2855.0 1875.0,2836.7 1881.7,2846.7 1886.7,2863.3 1891.7,2883.3 1898.3,2873.3 1906.7,2858.3 1913.3,2870.0 1918.3,2878.3 1923.3,2880.0 1930.0,2870.0 1936.7,2863.3 1941.7,2866.7 1948.3,2890.0 1955.0,2876.7 1960.0,2856.7 1963.3,2840.0 1970.0,2838.3 1975.0,2830.0 1980.0,2816.7 1983.3,2796.7 1986.7,2780.0 1990.0,2763.3 1996.7,2746.7 2000.0,2730.0 2003.3,2713.3 2008.3,2690.0 2011.7,2683.3 2016.7,2706.7 2020.0,2730.0 2023.3,2756.7 2026.7,2803.3 2030.0,2836.7 2033.3,2870.0 2036.7,2903.3 2040.0,2936.7 2043.3,2970.0 2050.0,2990.0 2055.0,3013.3 2060.0,3036.7 2063.3,3060.0 2066.7,3083.3 2070.0,3096.7 2075.0,3106.7 2080.0,3090.0 2085.0,3080.0 2091.7,3075.0 2096.7,3060.0 2101.7,3046.7 2106.7,3030.0 2110.0,3013.3 2113.3,2980.0 2120.0,2970.0 2128.3,2963.3 2138.3,2961.7"/>
<polyline fill="none" stroke="#0000ff" stroke-width="8" stroke-linejoin="round" stroke-linecap="butt" points="311.7,3008.3 318.3,3026.7 325.0,3043.3 333.3,3063.3 341.7,3083.3 348.3,3103.3 353.3,3120.0 358.3,3136.7 365.0,3148.3 375.0,3150.0 381.7,3160.0 388.3,3166.7 395.0,3173.3 400.0,3183.3 405.0,3200.0 410.0,3213.3 415.0,3228.3 423.3,3235.0 431.7,3230.0 440.0,3228.3 446.7,3220.0 453.3,3206.7 460.0,3193.3 465.0,3180.0 470.0,3160.0 475.0,3136.7 480.0,3106.7 485.0,3076.7 488.3,3065.0 495.0,3061.7 501.7,3073.3 506.7,3090.0 511.7,3106.7 518.3,3115.0 526.7,3118.3 535.0,3126.7 540.0,3146.7 543.3,3166.7 550.0,3180.0 556.7,3190.0 563.3,3200.0 568.3,3210.0 576.7,3218.3 585.0,3226.7 591.7,3240.0 600.0,3246.7 608.3,3243.3 615.0,3240.0 623.3,3250.0 631.7,3243.3 640.0,3246.7 648.3,3253.3 656.7,3258.3 663.3,3243.3 670.0,3235.0 678.3,3238.3 686.7,3236.7 691.7,3223.3 698.3,3210.0 705.0,3196.7 710.0,3183.3 716.7,3163.3 721.7,3140.0 726.7,3123.3 735.0,3116.7 741.7,3106.7 748.3,3080.0 753.3,3073.3 760.0,3063.3 763.3,3050.0 768.3,3030.0 773.3,3010.0 780.0,2993.3 790.0,2978.3 798.3,2983.3 801.7,2996.7 805.0,3026.7 810.0,3036.7 815.0,3041.7 820.0,3060.0 825.0,3080.0 830.0,3096.7 838.3,3110.0 843.3,3123.3 846.7,3143.3 850.0,3163.3 853.3,3183.3 861.7,3190.0 865.0,3203.3 870.0,3223.3 875.0,3246.7 878.3,3263.3 883.3,3276.7 890.0,3290.0 895.0,3296.7 900.0,3310.0 905.0,3326.7 910.0,3336.7 916.7,3350.0 925.0,3358.3 933.3,3363.3 941.7,3356.7 950.0,3346.7 958.3,3338.3 965.0,3333.3 970.0,3320.0 975.0,3306.7 980.0,3290.0 985.0,3270.0 988.3,3253.3 991.7,3240.0 996.7,3230.0 1001.7,3220.0 1006.7,3213.3 1011.7,3233.3 1016.7,3253.3 1021.7,3273.3 1026.7,3293.3 1031.7,3306.7 1038.3,3320.0 1046.7,3313.3 1050.0,3290.0 1053.3,3266.7 1056.7,3246.7 1061.7,3233.3 1070.0,3210.0 1076.7,3226.7 1081.7,3240.0 1088.3,3253.3 1093.3,3260.0 1098.3,3236.7 1103.3,3216.7 1108.3,3200.0 1113.3,3190.0 1120.0,3183.3 1126.7,3183.3 1133.3,3166.7 1140.0,3160.0 1145.0,3156.7 1148.3,3130.0 1151.7,3103.3 1156.7,3075.0 1163.3,3090.0 1168.3,3113.3 1171.7,3133.3 1176.7,3150.0 1181.7,3163.3 1185.0,3183.3 1188.3,3206.7 1193.3,3226.7 1201.7,3236.7 1210.0,3246.7 1216.7,3260.0 1220.0,3276.7 1226.7,3286.7 1236.7,3291.7 1245.0,3300.0 1253.3,3306.7 1260.0,3300.0 1268.3,3285.0 1276.7,3280.0 1283.3,3273.3 1291.7,3243.3 1300.0,3231.7 1303.3,3216.7 1308.3,3200.0 1313.3,3190.0 1318.3,3181.7 1326.7,3181.7 1330.0,3193.3 1335.0,3206.7 1341.7,3203.3 1350.0,3196.7 1358.3,3201.7 1363.3,3226.7 1366.7,3236.7 1373.3,3243.3 1378.3,3253.3 1381.7,3260.0 1388.3,3266.7 1396.7,3261.7 1405.0,3260.0 1413.3,3261.7 1420.0,3251.7 1426.7,3236.7 1431.7,3226.7 1438.3,3216.7 1445.0,3200.0 1448.3,3186.7 1453.3,3170.0 1458.3,3156.7 1463.3,3140.0 1466.7,3123.3 1470.0,3100.0 1473.3,3076.7 1476.7,3053.3 1480.0,3030.0 1483.3,3003.3 1486.7,2976.7 1490.0,2950.0 1493.3,2923.3 1498.3,2903.3 1503.3,2893.3 1510.0,2883.3 1516.7,2890.0 1521.7,2903.3 1526.7,2920.0 1531.7,2936.7 1540.0,2941.7 1545.0,2956.7 1550.0,2973.3 1555.0,2986.7 1561.7,3003.3 1566.7,3016.7 1570.0,3033.3 1575.0,3053.3 1580.0,3060.0 1588.3,3066.7 1595.0,3076.7 1600.0,3090.0 1603.3,3100.0 1613.3,3103.3 1620.0,3106.7 1628.3,3116.7 1636.7,3121.7 1645.0,3116.7 1653.3,3111.7 1660.0,3113.3 1666.7,3108.3 1671.7,3100.0 1678.3,3091.7 1686.7,3086.7 1693.3,3078.3 1696.7,3060.0 1700.0,3033.3 1705.0,3016.7 1710.0,3003.3 1715.0,2990.0 1720.0,2973.3 1725.0,2953.3 1728.3,2930.0 1731.7,2910.0 1740.0,2900.0 1748.3,2906.7 1753.3,2930.0 1756.7,2950.0 1761.7,2966.7 1766.7,2986.7 1770.0,3010.0 1773.3,3030.0 1781.7,3063.3 1786.7,3080.0 1791.7,3100.0 1796.7,3120.0 1801.7,3140.0 1808.3,3150.0 1816.7,3160.0 1821.7,3170.0 1826.7,3183.3 1833.3,3196.7 1840.0,3201.7 1846.7,3206.7 1851.7,3220.0 1856.7,3236.7 1860.0,3243.3 1868.3,3236.7 1875.0,3231.7 1883.3,3236.7 1891.7,3243.3 1898.3,3231.7 1905.0,3225.0 1911.7,3221.7 1916.7,3216.7 1921.7,3203.3 1926.7,3190.0 1931.7,3176.7 1940.0,3170.0 1948.3,3168.3 1953.3,3153.3 1958.3,3136.7 1963.3,3123.3 1970.0,3113.3 1975.0,3103.3 1978.3,3086.7 1981.7,3070.0 1985.0,3053.3 1988.3,3040.0 1993.3,3033.3 1998.3,3023.3 2001.7,3003.3 2005.0,2983.3 2008.3,2970.0 2011.7,2958.3 2016.7,2970.0 2021.7,2986.7 2025.0,3010.0 2028.3,3033.3 2031.7,3056.7 2036.7,3083.3 2041.7,3106.7 2045.0,3116.7 2050.0,3110.0 2056.7,3106.7 2061.7,3113.3 2066.7,3126.7 2071.7,3136.7 2076.7,3141.7 2083.3,3130.0 2090.0,3130.0 2096.7,3133.3 2103.3,3126.7 2106.7,3113.3 2110.0,3090.0 2113.3,3063.3 2116.7,3043.3 2123.3,3056.7 2126.7,3066.7 2130.0,3086.7 2133.3,3110.0 2136.7,3136.7 2138.3,3153.3 2140.0,3173.3"/>
<polyline fill="none" stroke="#008080" stroke-width="8" stroke-linejoin="round" stroke-linecap="butt" points="311.7,2803.3 318.3,2826.7 325.0,2850.0 333.3,2880.0 340.0,2903.3 348.3,2926.7 356.7,2950.0 366.7,2970.0 376.7,2980.0 385.0,2993.3 393.3,3010.0 400.0,3026.7 406.7,3050.0 415.0,3053.3 423.3,3046.7 428.3,3033.3 435.0,3016.7 441.7,3003.3 448.3,2990.0 455.0,2970.0 460.0,2953.3 465.0,2933.3 470.0,2910.0 475.0,2880.0 480.0,2850.0 485.0,2833.3 490.0,2826.7 498.3,2831.7 505.0,2841.7 510.0,2866.7 516.7,2883.3 523.3,2900.0 530.0,2916.7 536.7,2925.0 541.7,2946.7 546.7,2970.0 553.3,2993.3 560.0,3006.7 566.7,3023.3 571.7,3040.0 575.0,3053.3 583.3,3056.7 590.0,3063.3 596.7,3073.3 603.3,3081.7 610.0,3083.3 615.0,3076.7 623.3,3088.3 631.7,3083.3 640.0,3078.3 648.3,3081.7 655.0,3090.0 663.3,3073.3 670.0,3060.0 678.3,3056.7 686.7,3046.7 693.3,3023.3 700.0,3010.0 706.7,3000.0 713.3,2988.3 718.3,2973.3 721.7,2956.7 726.7,2930.0 731.7,2913.3 736.7,2896.7 740.0,2880.0 745.0,2860.0 748.3,2840.0 753.3,2823.3 756.7,2810.0 761.7,2793.3 766.7,2756.7 771.7,2736.7 778.3,2726.7 786.7,2721.7 796.7,2730.0 798.3,2730.0 803.3,2760.0 806.7,2790.0 813.3,2813.3 818.3,2836.7 823.3,2863.3 828.3,2890.0 833.3,2910.0 840.0,2930.0 846.7,2950.0 851.7,2970.0 855.0,2986.7 861.7,3000.0 866.7,3016.7 871.7,3033.3 876.7,3050.0 883.3,3063.3 891.7,3070.0 901.7,3071.7 911.7,3066.7 918.3,3063.3 923.3,3050.0 930.0,3033.3 936.7,3020.0 943.3,3010.0 950.0,3008.3 955.0,2996.7 960.0,2986.7 965.0,2973.3 970.0,2956.7 973.3,2936.7 976.7,2920.0 980.0,2896.7 983.3,2870.0 986.7,2836.7 990.0,2803.3 995.0,2783.3 998.3,2763.3 1003.3,2743.3 1006.7,2736.7 1011.7,2750.0 1016.7,2766.7 1020.0,2790.0 1023.3,2816.7 1026.7,2843.3 1030.0,2876.7 1033.3,2910.0 1036.7,2940.0 1041.7,2966.7 1046.7,3000.0 1051.7,2980.0 1055.0,2970.0 1061.7,2960.0 1066.7,2940.0 1070.0,2923.3 1078.3,2918.3 1083.3,2910.0 1086.7,2900.0 1090.0,2883.3 1093.3,2863.3 1096.7,2836.7 1100.0,2803.3 1105.0,2766.7 1110.0,2743.3 1118.3,2750.0 1123.3,2763.3 1130.0,2780.0 1136.7,2790.0 1143.3,2803.3 1150.0,2806.7 1156.7,2823.3 1160.0,2836.7 1163.3,2863.3 1166.7,2893.3 1173.3,2903.3 1176.7,2893.3 1181.7,2880.0 1190.0,2883.3 1196.7,2883.3 1203.3,2870.0 1210.0,2865.0 1220.0,2863.3 1226.7,2856.7 1236.7,2848.3 1245.0,2851.7 1253.3,2846.7 1258.3,2836.7 1263.3,2820.0 1268.3,2803.3 1276.7,2805.0 1283.3,2796.7 1290.0,2763.3 1295.0,2760.0 1301.7,2756.7 1306.7,2733.3 1311.7,2720.0 1318.3,2710.0 1321.7,2726.7 1325.0,2750.0 1331.7,2803.3 1335.0,2836.7 1338.3,2866.7 1343.3,2896.7 1346.7,2916.7 1351.7,2926.7 1358.3,2933.3 1363.3,2956.7 1368.3,2963.3 1375.0,2966.7 1383.3,2973.3 1390.0,2988.3 1396.7,2986.7 1405.0,2973.3 1413.3,2970.0 1420.0,2966.7 1426.7,2953.3 1433.3,2936.7 1440.0,2926.7 1446.7,2913.3 1450.0,2896.7 1453.3,2870.0 1456.7,2843.3 1460.0,2826.7 1463.3,2803.3 1466.7,2760.0 1470.0,2733.3 1473.3,2700.0 1476.7,2666.7 1480.0,2633.3 1483.3,2600.0 1486.7,2566.7 1490.0,2540.0 1493.3,2520.0 1496.7,2493.3 1500.0,2473.3 1505.0,2466.7 1510.0,2463.3 1515.0,2476.7 1518.3,2493.3 1521.7,2523.3 1525.0,2556.7 1528.3,2583.3 1531.7,2606.7 1536.7,2616.7 1541.7,2613.3 1546.7,2626.7 1551.7,2643.3 1556.7,2660.0 1561.7,2676.7 1565.0,2690.0 1568.3,2716.7 1571.7,2740.0 1575.0,2756.7 1581.7,2773.3 1581.7,2775.0 1588.3,2760.0 1595.0,2766.7 1596.7,2780.0 1603.3,2800.0 1613.3,2800.0 1620.0,2800.0 1626.7,2813.3 1635.0,2815.0 1643.3,2796.7 1650.0,2795.0 1660.0,2808.3 1666.7,2796.7 1671.7,2783.3 1676.7,2773.3 1678.3,2775.0 1686.7,2776.7 1688.3,2763.3 1693.3,2743.3 1698.3,2720.0 1703.3,2700.0 1708.3,2686.7 1711.7,2666.7 1715.0,2640.0 1718.3,2613.3 1721.7,2586.7 1725.0,2560.0 1728.3,2523.3 1731.7,2500.0 1736.7,2480.0 1741.7,2468.3 1748.3,2476.7 1751.7,2493.3 1755.0,2520.0 1760.0,2530.0 1765.0,2540.0 1768.3,2566.7 1771.7,2593.3 1775.0,2613.3 1780.0,2626.7 1786.7,2643.3 1791.7,2660.0 1796.7,2676.7 1801.7,2706.7 1806.7,2720.0 1813.3,2726.7 1820.0,2730.0 1825.0,2746.7 1830.0,2763.3 1835.0,2780.0 1841.7,2790.0 1846.7,2803.3 1851.7,2820.0 1855.0,2836.7 1858.3,2853.3 1863.3,2866.7 1870.0,2875.0 1876.7,2883.3 1881.7,2900.0 1886.7,2916.7 1891.7,2933.3 1900.0,2938.3 1906.7,2946.7 1913.3,2956.7 1918.3,2970.0 1925.0,2978.3 1933.3,2985.0 1938.3,2996.7 1943.3,3010.0 1948.3,3020.0 1956.7,3020.0 1963.3,3023.3 1970.0,3033.3 1976.7,3028.3 1985.0,3016.7 1993.3,3013.3 2000.0,3008.3 2006.7,3000.0 2013.3,2993.3 2020.0,3000.0 2025.0,3013.3 2031.7,3033.3 2036.7,3046.7 2043.3,3056.7 2048.3,3046.7 2053.3,3030.0 2060.0,3013.3 2066.7,3020.0 2073.3,3030.0 2081.7,3035.0 2090.0,3035.0 2098.3,3028.3 2103.3,3016.7 2108.3,3000.0 2115.0,2985.0 2121.7,2990.0 2126.7,3000.0 2131.7,3013.3 2135.0,3023.3 2138.3,3031.7"/>
<polyline fill="none" stroke="#ff00ff" stroke-width="8" stroke-linejoin="round" stroke-linecap="butt" points="311.7,2315.0 318.3,2346.7 325.0,2380.0 331.7,2413.3 336.7,2440.0 341.7,2466.7 346.7,2493.3 351.7,2523.3 355.0,2550.0 358.3,2566.7 365.0,2593.3 375.0,2598.3 380.0,2620.0 386.7,2653.3 393.3,2686.7 400.0,2706.7 403.3,2740.0 406.7,2766.7 410.0,2803.3 413.3,2836.7 416.7,2870.0 420.0,2903.3 425.0,2936.7 430.0,2970.0 435.0,3003.3 440.0,3030.0 446.7,3050.0 453.3,3036.7 460.0,3020.0 465.0,3000.0 468.3,2970.0 471.7,2936.7 475.0,2903.3 478.3,2870.0 481.7,2836.7 485.0,2803.3 488.3,2756.7 493.3,2736.7 503.3,2720.0 506.7,2700.0 511.7,2680.0 515.0,2660.0 518.3,2640.0 523.3,2623.3 526.7,2615.0 533.3,2626.7 536.7,2636.7 538.3,2666.7 540.0,2693.3 543.3,2723.3 548.3,2746.7 553.3,2766.7 560.0,2786.7 565.0,2816.7 571.7,2830.0 578.3,2843.3 585.0,2853.3 590.0,2886.7 600.0,2891.7 606.7,2876.7 615.0,2870.0 623.3,2883.3 630.0,2866.7 636.7,2846.7 645.0,2836.7 651.7,2823.3 656.7,2810.0 660.0,2790.0 663.3,2756.7 668.3,2730.0 676.7,2726.7 681.7,2710.0 686.7,2690.0 690.0,2660.0 695.0,2636.7 700.0,2616.7 705.0,2596.7 710.0,2576.7 713.3,2553.3 716.7,2526.7 721.7,2510.0 726.7,2500.0 733.3,2510.0 736.7,2490.0 740.0,2466.7 743.3,2440.0 746.7,2406.7 748.3,2373.3 750.0,2353.3 755.0,2340.0 760.0,2320.0 765.0,2296.7 768.3,2273.3 771.7,2250.0 775.0,2235.0 783.3,2236.7 790.0,2253.3 796.7,2270.0 800.0,2273.3 803.3,2306.7 806.7,2346.7 811.7,2383.3 816.7,2416.7 820.0,2450.0 823.3,2483.3 826.7,2516.7 831.7,2550.0 836.7,2583.3 841.7,2620.0 846.7,2653.3 850.0,2686.7 853.3,2716.7 858.3,2736.7 863.3,2760.0 868.3,2796.7 871.7,2830.0 875.0,2870.0 878.3,2920.0 883.3,2946.7 888.3,2970.0 895.0,2993.3 900.0,3030.0 903.3,3046.7 908.3,3066.7 913.3,3086.7 918.3,3110.0 923.3,3136.7 928.3,3156.7 933.3,3175.0 941.7,3166.7 950.0,3160.0 960.0,3161.7 968.3,3156.7 973.3,3140.0 981.7,3123.3 986.7,3096.7 991.7,3070.0 996.7,3040.0 1001.7,3016.7 1006.7,3000.0 1015.0,3016.7 1020.0,3046.7 1025.0,3083.3 1030.0,3116.7 1036.7,3143.3 1046.7,3165.0 1053.3,3143.3 1058.3,3126.7 1063.3,3118.3 1070.0,3115.0 1076.7,3103.3 1083.3,3083.3 1088.3,3056.7 1093.3,3026.7 1096.7,2996.7 1100.0,2956.7 1103.3,2916.7 1106.7,2886.7 1110.0,2853.3 1115.0,2836.7 1120.0,2823.3 1125.0,2800.0 1130.0,2760.0 1135.0,2743.3 1141.7,2733.3 1143.3,2706.7 1145.0,2680.0 1146.7,2653.3 1150.0,2636.7 1153.3,2623.3 1156.7,2610.0 1161.7,2626.7 1165.0,2653.3 1168.3,2680.0 1173.3,2706.7 1178.3,2733.3 1181.7,2760.0 1185.0,2803.3 1188.3,2836.7 1193.3,2870.0 1198.3,2893.3 1205.0,2920.0 1210.0,2946.7 1213.3,2970.0 1216.7,2996.7 1220.0,3023.3 1226.7,3043.3 1233.3,3060.0 1240.0,3076.7 1245.0,3100.0 1251.7,3126.7 1260.0,3121.7 1268.3,3118.3 1276.7,3116.7 1283.3,3096.7 1290.0,3076.7 1295.0,3056.7 1301.7,3043.3 1305.0,3010.0 1308.3,2976.7 1313.3,2960.0 1318.3,2943.3 1325.0,2930.0 1333.3,2933.3 1336.7,2896.7 1340.0,2870.0 1345.0,2846.7 1350.0,2836.7 1358.3,2843.3 1361.7,2863.3 1365.0,2883.3 1368.3,2891.7 1375.0,2890.0 1378.3,2910.0 1381.7,2930.0 1390.0,2933.3 1396.7,2915.0 1403.3,2925.0 1408.3,2936.7 1413.3,2951.7 1418.3,2936.7 1423.3,2910.0 1428.3,2876.7 1435.0,2866.7 1440.0,2853.3 1443.3,2836.7 1448.3,2826.7 1453.3,2823.3 1461.7,2830.0 1465.0,2803.3 1468.3,2746.7 1471.7,2706.7 1475.0,2666.7 1478.3,2626.7 1481.7,2586.7 1485.0,2546.7 1486.7,2506.7 1490.0,2466.7 1491.7,2430.0 1493.3,2396.7 1496.7,2360.0 1498.3,2326.7 1501.7,2286.7 1505.0,2246.7 1508.3,2206.7 1513.3,2176.7 1516.7,2158.3 1521.7,2180.0 1525.0,2206.7 1528.3,2240.0 1531.7,2273.3 1533.3,2290.0 1541.7,2300.0 1546.7,2326.7 1551.7,2356.7 1555.0,2393.3 1561.7,2416.7 1566.7,2440.0 1571.7,2470.0 1575.0,2500.0 1578.3,2530.0 1586.7,2543.3 1593.3,2560.0 1598.3,2576.7 1601.7,2606.7 1605.0,2626.7 1610.0,2650.0 1613.3,2653.3 1620.0,2636.7 1628.3,2643.3 1633.3,2666.7 1638.3,2680.0 1643.3,2686.7 1646.7,2673.3 1651.7,2656.7 1660.0,2660.0 1666.7,2660.0 1670.0,2650.0 1675.0,2633.3 1683.3,2616.7 1691.7,2620.0 1695.0,2583.3 1698.3,2540.0 1703.3,2520.0 1708.3,2506.7 1713.3,2523.3 1721.7,2530.0 1731.7,2533.3 1736.7,2553.3 1740.0,2583.3 1748.3,2600.0 1751.7,2620.0 1755.0,2646.7 1758.3,2673.3 1761.7,2700.0 1765.0,2726.7 1768.3,2753.3 1776.7,2810.0 1780.0,2836.7 1783.3,2870.0 1786.7,2903.3 1791.7,2930.0 1796.7,2963.3 1801.7,2990.0 1806.7,3010.0 1811.7,3030.0 1818.3,3050.0 1825.0,3070.0 1831.7,3090.0 1838.3,3106.7 1845.0,3116.7 1851.7,3121.7 1860.0,3131.7 1865.0,3120.0 1870.0,3106.7 1876.7,3086.7 1883.3,3070.0 1890.0,3056.7 1893.3,3043.3 1898.3,3023.3 1903.3,3003.3 1908.3,2986.7 1913.3,2970.0 1916.7,2953.3 1920.0,2936.7 1923.3,2916.7 1926.7,2896.7 1930.0,2876.7 1933.3,2856.7 1936.7,2840.0 1940.0,2823.3 1943.3,2803.3 1948.3,2783.3 1950.0,2756.7 1955.0,2723.3 1958.3,2690.0 1963.3,2660.0 1968.3,2643.3 1973.3,2616.7 1976.7,2583.3 1980.0,2553.3 1983.3,2526.7 1986.7,2500.0 1991.7,2483.3 1996.7,2463.3 2000.0,2430.0 2003.3,2400.0 2006.7,2370.0 2010.0,2340.0 2011.7,2326.7 2016.7,2346.7 2021.7,2373.3 2025.0,2406.7 2030.0,2440.0 2035.0,2473.3 2038.3,2506.7 2041.7,2540.0 2043.3,2560.0 2050.0,2546.7 2055.0,2526.7 2060.0,2516.7 2063.3,2533.3 2066.7,2556.7 2075.0,2570.0 2080.0,2553.3 2085.0,2540.0 2091.7,2553.3 2100.0,2543.3 2108.3,2536.7 2111.7,2520.0 2115.0,2503.3 2120.0,2540.0 2123.3,2573.3 2126.7,2606.7 2130.0,2656.7 2133.3,2706.7 2135.0,2740.0 2136.7,2803.3 2138.3,2835.0"/>
</g>
<line x1="304.0" y1="2052" x2="304.0" y2="3482.5" stroke="#000" stroke-width="6"/>
<line x1="301.0" y1="3479.5" x2="2220.0" y2="3479.5" stroke="#000" stroke-width="6"/>
<line x1="276" y1="2107.5" x2="304.0" y2="2107.5" stroke="#000" stroke-width="6"/>
<text transform="translate(259,2124.0) scale(1,1.05)" text-anchor="end" font-size="62">0.30</text>
<line x1="276" y1="2381.9" x2="304.0" y2="2381.9" stroke="#000" stroke-width="6"/>
<text transform="translate(259,2398.4) scale(1,1.05)" text-anchor="end" font-size="62">0.25</text>
<line x1="276" y1="2656.3" x2="304.0" y2="2656.3" stroke="#000" stroke-width="6"/>
<text transform="translate(259,2672.8) scale(1,1.05)" text-anchor="end" font-size="62">0.20</text>
<line x1="276" y1="2930.7" x2="304.0" y2="2930.7" stroke="#000" stroke-width="6"/>
<text transform="translate(259,2947.2) scale(1,1.05)" text-anchor="end" font-size="62">0.15</text>
<line x1="276" y1="3205.1" x2="304.0" y2="3205.1" stroke="#000" stroke-width="6"/>
<text transform="translate(259,3221.6) scale(1,1.05)" text-anchor="end" font-size="62">0.10</text>
<line x1="276" y1="3479.5" x2="304.0" y2="3479.5" stroke="#000" stroke-width="6"/>
<text transform="translate(259,3496.0) scale(1,1.05)" text-anchor="end" font-size="62">0.05</text>
<line x1="290" y1="2244.7" x2="304.0" y2="2244.7" stroke="#000" stroke-width="6"/>
<line x1="290" y1="2519.1" x2="304.0" y2="2519.1" stroke="#000" stroke-width="6"/>
<line x1="290" y1="2793.5" x2="304.0" y2="2793.5" stroke="#000" stroke-width="6"/>
<line x1="290" y1="3067.9" x2="304.0" y2="3067.9" stroke="#000" stroke-width="6"/>
<line x1="290" y1="3342.3" x2="304.0" y2="3342.3" stroke="#000" stroke-width="6"/>
<line x1="304.0" y1="3478.5" x2="304.0" y2="3507.5" stroke="#000" stroke-width="6"/>
<text transform="translate(304.5,3573.8) scale(1,1.05)" text-anchor="middle" font-size="62">0</text>
<line x1="463.6" y1="3479.5" x2="463.6" y2="3493.5" stroke="#000" stroke-width="6"/>
<line x1="623.2" y1="3478.5" x2="623.2" y2="3507.5" stroke="#000" stroke-width="6"/>
<text transform="translate(623.8,3573.8) scale(1,1.05)" text-anchor="middle" font-size="62">40</text>
<line x1="782.9" y1="3479.5" x2="782.9" y2="3493.5" stroke="#000" stroke-width="6"/>
<line x1="942.5" y1="3478.5" x2="942.5" y2="3507.5" stroke="#000" stroke-width="6"/>
<text transform="translate(943.0,3573.8) scale(1,1.05)" text-anchor="middle" font-size="62">80</text>
<line x1="1102.1" y1="3479.5" x2="1102.1" y2="3493.5" stroke="#000" stroke-width="6"/>
<line x1="1261.8" y1="3478.5" x2="1261.8" y2="3507.5" stroke="#000" stroke-width="6"/>
<text transform="translate(1262.2,3573.8) scale(1,1.05)" text-anchor="middle" font-size="62">120</text>
<line x1="1421.4" y1="3479.5" x2="1421.4" y2="3493.5" stroke="#000" stroke-width="6"/>
<line x1="1581.0" y1="3478.5" x2="1581.0" y2="3507.5" stroke="#000" stroke-width="6"/>
<text transform="translate(1581.5,3573.8) scale(1,1.05)" text-anchor="middle" font-size="62">160</text>
<line x1="1740.6" y1="3479.5" x2="1740.6" y2="3493.5" stroke="#000" stroke-width="6"/>
<line x1="1900.2" y1="3478.5" x2="1900.2" y2="3507.5" stroke="#000" stroke-width="6"/>
<text transform="translate(1900.8,3573.8) scale(1,1.05)" text-anchor="middle" font-size="62">200</text>
<line x1="2059.9" y1="3479.5" x2="2059.9" y2="3493.5" stroke="#000" stroke-width="6"/>
<line x1="2219.5" y1="3478.5" x2="2219.5" y2="3507.5" stroke="#000" stroke-width="6"/>
<text transform="translate(2220.0,3573.8) scale(1,1.05)" text-anchor="middle" font-size="62">240</text>
<line x1="1593" y1="1941.6" x2="1744" y2="1941.6" stroke="#000000" stroke-width="8"/>
<text x="1762" y="1964.0" font-size="47.5">ER<tspan>β</tspan>-estradiol</text>
<line x1="1593" y1="2025.9" x2="1744" y2="2025.9" stroke="#ff0000" stroke-width="8"/>
<text x="1762" y="2048.3" font-size="47.5">ER<tspan>β</tspan>-coumestrol</text>
<line x1="1593" y1="2110.2" x2="1744" y2="2110.2" stroke="#0000ff" stroke-width="8"/>
<text x="1762" y="2132.6" font-size="47.5">ER<tspan>β</tspan>-4'-methoxycoumestrol</text>
<line x1="1593" y1="2194.0" x2="1744" y2="2194.0" stroke="#008080" stroke-width="8"/>
<text x="1762" y="2216.4" font-size="47.5">ER<tspan>β</tspan>-psoralen</text>
<line x1="1593" y1="2277.9" x2="1744" y2="2277.9" stroke="#ff00ff" stroke-width="8"/>
<text x="1762" y="2300.3" font-size="47.5">ER<tspan>β</tspan>-isopsoralen</text>
<text x="1273.3" y="3672.4" text-anchor="middle" font-size="79">Residue number</text>
<text x="1272.5" y="3760.8" text-anchor="middle" font-size="68">(b)</text>
<text transform="translate(80.2,2820.5) rotate(-90)" text-anchor="middle" font-size="80">RMSF/nm</text>
</svg>
</body></html>
